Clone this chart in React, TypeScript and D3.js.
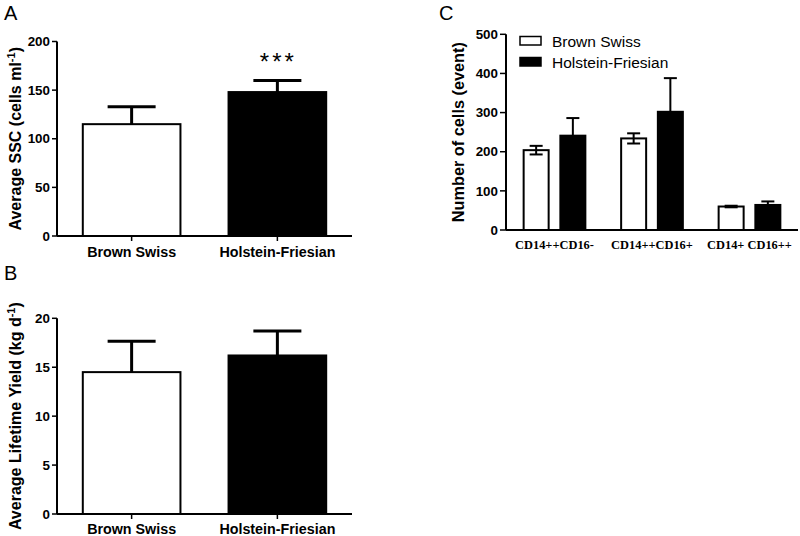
import React from "react";
import * as d3 from "d3";

const breeds = ["Brown Swiss", "Holstein-Friesian"];
const sscMean = [115, 148];
const sscErr = [18, 12];
const sscTicks = [0, 50, 100, 150, 200];
const yieldMean = [14.5, 16.2];
const yieldErr = [3.15, 2.5];
const yieldTicks = [0, 5, 10, 15, 20];
const subsets = ["CD14++CD16-", "CD14++CD16+", "CD14+ CD16++"];
const bsCells = [204, 234, 60];
const bsErr = [11, 13, 2];
const hfCells = [241, 302, 64];
const hfErr = [45, 86, 9];
const cellTicks = [0, 100, 200, 300, 400, 500];

const SANS = "'Liberation Sans', Arial, sans-serif";
const SERIF = "'Liberation Serif', 'Times New Roman', serif";
const fills = ["#ffffff", "#000000"];

function BarPanel(props: {
  top: number; bottom: number; max: number; ticks: number[];
  means: number[]; errs: number[]; title: React.ReactNode; label: string;
  labelY: number; xLabelY: number; stars?: boolean;
}) {
  const { top, bottom, max, ticks, means, errs, title, label, labelY, xLabelY, stars } = props;
  const y = d3.scaleLinear().domain([0, max]).range([bottom, top]);
  const x = d3.scaleBand<string>().domain(breeds).range([57, 352]).paddingInner(0.33).paddingOuter(0.177);
  const bw = x.bandwidth();
  return (
    <g>
      <text x={4} y={labelY} fontFamily={SANS} fontSize={20}>{label}</text>
      {breeds.map((b, i) => {
        const x0 = x(b)!;
        const cx = x0 + bw / 2;
        return (
          <g key={b}>
            <line x1={cx} x2={cx} y1={y(means[i])} y2={y(means[i] + errs[i])} stroke="#000" strokeWidth={3} />
            <line x1={cx - 24} x2={cx + 24} y1={y(means[i] + errs[i])} y2={y(means[i] + errs[i])} stroke="#000" strokeWidth={3} />
            <rect x={x0} y={y(means[i])} width={bw} height={bottom - y(means[i])} fill={fills[i]} stroke="#000" strokeWidth={2} />
            <line x1={cx} x2={cx} y1={bottom} y2={bottom + 5} stroke="#000" strokeWidth={1.5} />
            <text x={cx} y={xLabelY} textAnchor="middle" fontFamily={SANS} fontWeight="bold" fontSize={14.3}>{b}</text>
          </g>
        );
      })}
      <line x1={57} x2={57} y1={top} y2={bottom} stroke="#000" strokeWidth={2} />
      <line x1={57} x2={352} y1={bottom} y2={bottom} stroke="#000" strokeWidth={2} />
      {ticks.map((t) => (
        <g key={t}>
          <line x1={52} x2={57} y1={y(t)} y2={y(t)} stroke="#000" strokeWidth={1.5} />
          <text x={50} y={y(t) + 4.7} textAnchor="end" fontFamily={SANS} fontWeight="bold" fontSize={13.4}>{t}</text>
        </g>
      ))}
      <text transform={`translate(21,${(top + bottom) / 2}) rotate(-90)`} textAnchor="middle" fontFamily={SANS} fontWeight="bold" fontSize={16}>{title}</text>
      {stars && (
        <text x={x(breeds[1])! + bw / 2 + 1} y={y(means[1] + errs[1]) - 10} textAnchor="middle" fontFamily={SANS} fontSize={24} letterSpacing={3}>***</text>
      )}
    </g>
  );
}

function PanelC() {
  const top = 34.3, bottom = 230, left = 506, right = 798;
  const y = d3.scaleLinear().domain([0, 500]).range([bottom, top]);
  const x0 = d3.scaleBand<string>().domain(subsets).range([left, right]).paddingInner(0.367).paddingOuter(0.181);
  const x1 = d3.scaleBand<string>().domain(breeds).range([0, x0.bandwidth()]).paddingInner(0.319).paddingOuter(0);
  const bw = x1.bandwidth();
  const series = [
    { mean: bsCells, err: bsErr, fill: fills[0], lower: true },
    { mean: hfCells, err: hfErr, fill: fills[1], lower: false },
  ];
  return (
    <g>
      <text x={439} y={20} fontFamily={SANS} fontSize={20}>C</text>
      {subsets.map((s, gi) => (
        <g key={s}>
          {series.map((ser, si) => {
            const bx = x0(s)! + x1(breeds[si])!;
            const cx = bx + bw / 2;
            const m = ser.mean[gi], e = ser.err[gi];
            return (
              <g key={si}>
                <line x1={cx} x2={cx} y1={y(ser.lower ? m - e : m)} y2={y(m + e)} stroke="#000" strokeWidth={2} />
                <line x1={cx - 6.5} x2={cx + 6.5} y1={y(m + e)} y2={y(m + e)} stroke="#000" strokeWidth={2} />
                <rect x={bx} y={y(m)} width={bw} height={bottom - y(m)} fill={ser.fill} stroke="#000" strokeWidth={2} fillOpacity={ser.lower ? 0 : 1} />
                {ser.lower && (
                  <line x1={cx - 6.5} x2={cx + 6.5} y1={y(m - e)} y2={y(m - e)} stroke="#000" strokeWidth={2} />
                )}
              </g>
            );
          })}
          <text x={x0(s)! + x0.bandwidth() / 2} y={249} textAnchor="middle" fontFamily={SERIF} fontWeight="bold" fontSize={12.4}>{s}</text>
        </g>
      ))}
      <line x1={left} x2={left} y1={top} y2={bottom} stroke="#000" strokeWidth={2} />
      <line x1={left} x2={right} y1={bottom} y2={bottom} stroke="#000" strokeWidth={2} />
      {cellTicks.map((t) => (
        <g key={t}>
          <line x1={500} x2={left} y1={y(t)} y2={y(t)} stroke="#000" strokeWidth={1.5} />
          <text x={498} y={y(t) + 4.7} textAnchor="end" fontFamily={SANS} fontWeight="bold" fontSize={13.4}>{t}</text>
        </g>
      ))}
      <text transform={`translate(464,${(top + bottom) / 2}) rotate(-90)`} textAnchor="middle" fontFamily={SANS} fontWeight="bold" fontSize={16.3}>Number of cells (event)</text>
      {breeds.map((b, i) => (
        <g key={b}>
          <rect x={520} y={36.5 + i * 21} width={21} height={8.5} fill={fills[i]} stroke="#000" strokeWidth={1.5} />
          <text x={552} y={46.5 + i * 21} fontFamily={SANS} fontSize={15.5}>{b}</text>
        </g>
      ))}
    </g>
  );
}

export default function App() {
  return (
    <svg width={800} height={536} style={{ position: "absolute", left: 0, top: 0, background: "#fff" }}>
      <rect width={800} height={536} fill="#fff" />
      <BarPanel top={41.5} bottom={236} max={200} ticks={sscTicks} means={sscMean} errs={sscErr}
        label="A" labelY={20} xLabelY={256.5} stars
        title={<>Average SSC (cells ml<tspan dy={-6} fontSize={11}>-1</tspan><tspan dy={6}>)</tspan></>} />
      <BarPanel top={318.3} bottom={514} max={20} ticks={yieldTicks} means={yieldMean} errs={yieldErr}
        label="B" labelY={280} xLabelY={533.5}
        title={<>Average Lifetime Yield (kg d<tspan dy={-6} fontSize={11}>-1</tspan><tspan dy={6}>)</tspan></>} />
      <PanelC />
    </svg>
  );
}
